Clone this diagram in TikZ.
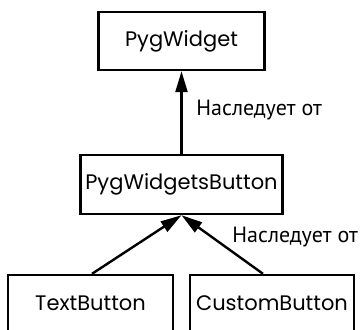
\documentclass[tikz,border=0pt]{standalone}
\usepackage{fontspec}
\usepackage{tikz}
\usetikzlibrary{arrows.meta,calc}
\newfontfamily\boxfont{Poppins}
\newfontfamily\labelfont{PT Sans}

\begin{document}
\begin{tikzpicture}[x=0.5pt,y=-0.5pt,
    classbox/.style={draw,line width=1.2pt,font=\boxfont\fontsize{10.5}{12}\selectfont,inner sep=0pt},
    inherit/.style={line width=1.2pt,-{Triangle[length=10.5pt,width=6pt]}},
    inhlabel/.style={font=\labelfont\fontsize{11}{12}\selectfont,anchor=west,inner sep=0pt}]
    \useasboundingbox (0,0) rectangle (360,329);
    % classes
    \node[classbox,minimum width=83pt,minimum height=29pt] (widget) at (181.5,41) {PygWidget};
    \node[classbox,minimum width=101pt,minimum height=29.5pt] (button) at (181.5,184.5) {PygWidgetsButton};
    \node[classbox,minimum width=82.5pt,minimum height=28pt] (text) at (90.5,303) {TextButton};
    \node[classbox,minimum width=82pt,minimum height=28pt] (custom) at (272,303) {CustomButton};
    % inheritance
    \draw[inherit] (button.north) -- (widget.south);
    \draw[inherit] ([xshift=0.75pt]text.north) -- (button.south);
    \draw[inherit] ([xshift=-4.5pt]custom.north) -- (button.south);
    \node[inhlabel] (up) at (196,110) {Наследует от};
    \node[inhlabel] (down) at (232,237) {Наследует от};
\end{tikzpicture}
\end{document}
